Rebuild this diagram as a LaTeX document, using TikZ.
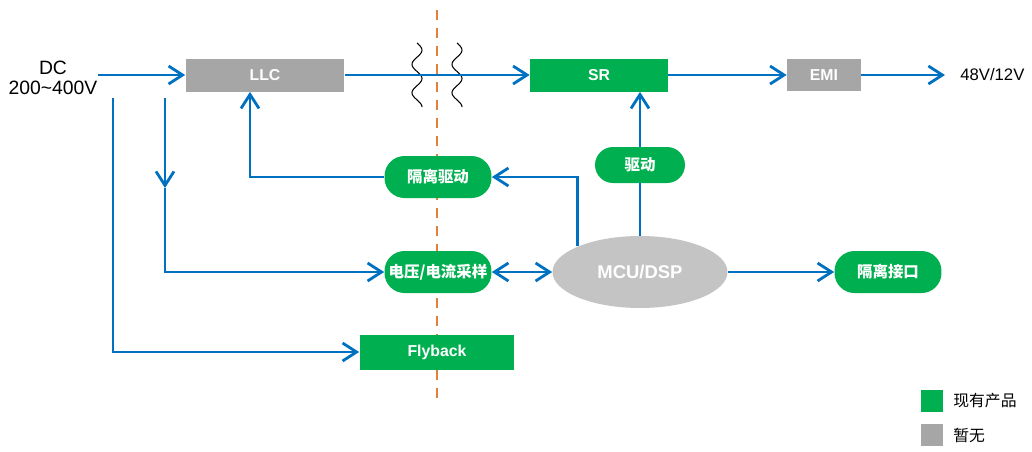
\documentclass[tikz,border=0pt]{standalone}
\usepackage{fontspec}
\setmainfont{Liberation Sans}
\newfontfamily\cjk{Noto Sans CJK SC}
\usetikzlibrary{arrows.meta, shapes.geometric}

\definecolor{lineblue}{RGB}{0,112,192}
\definecolor{prodgreen}{RGB}{0,176,80}
\definecolor{nogray}{RGB}{166,166,166}
\definecolor{mcugray}{RGB}{196,196,196}
\definecolor{cutorange}{RGB}{226,128,56}

\begin{document}
\begin{tikzpicture}[x=0.02cm, y=-0.02cm, font=\fontsize{9}{11}\selectfont]
    \tikzstyle{box} = [rectangle, text=white, inner sep=0pt, font=\fontsize{9}{11}\selectfont\bfseries]
    \tikzstyle{green box} = [box, fill=prodgreen]
    \tikzstyle{gray box} = [box, fill=nogray]
    \tikzstyle{pill} = [box, fill=prodgreen, rounded corners=0.4cm, minimum width=2.14cm, minimum height=0.84cm, font=\fontsize{8.8}{11}\selectfont\cjk\bfseries]
    \tikzstyle{link} = [draw=lineblue, line width=1.6pt, -{Straight Barb[length=2.8mm, width=3.6mm]}]
    \tikzstyle{both} = [link, {Straight Barb[length=2.8mm, width=3.6mm]}-{Straight Barb[length=2.8mm, width=3.6mm]}]
    \tikzstyle{wire} = [draw=lineblue, line width=1.6pt]
    \tikzstyle{coil} = [draw=black, line width=0.6pt, smooth, samples=60, domain=0:64]

    \useasboundingbox (0,0) rectangle (1032,451);

    % isolation barrier and transformer
    \draw [cutorange, line width=1.1pt, dash pattern=on 0.2cm off 0.16cm] (437,10) -- (437,405);
    \draw [coil] plot ({417+5*sin(\x*12.656)}, {43+\x});
    \draw [coil] plot ({457+5*sin(\x*12.656)}, {43+\x});

    \node [align=center, font=\fontsize{11}{11.5}\selectfont] (dc) at (53,78) {DC\\200\textasciitilde400V};
    \coordinate (in) at (98,75);
    \coordinate (b1) at (113,98);
    \coordinate (b2) at (165,98);
    \coordinate (mid) at (165,188);

    \node [gray box, minimum width=3.18cm, minimum height=0.66cm] (llc) at (265,75) {LLC};
    \node [green box, minimum width=2.76cm, minimum height=0.66cm] (sr) at (599,75) {SR};
    \node [gray box, minimum width=1.48cm, minimum height=0.64cm] (emi) at (824,75) {EMI};
    \node [inner sep=0pt, anchor=west, font=\fontsize{9.5}{11}\selectfont] (out) at (960,75) {48V/12V};

    \node [pill] (iso) at (438,177) {隔离驱动};
    \node [pill, minimum width=1.8cm, minimum height=0.72cm, rounded corners=0.36cm] (drv) at (640,165) {驱动};
    \node [pill] (samp) at (438,272) {电压/电流采样};
    \node [ellipse, fill=mcugray, text=white, inner sep=0pt, minimum width=3.5cm, minimum height=1.44cm, font=\fontsize{10.5}{12}\selectfont\bfseries] (mcu) at (640,272) {MCU/DSP};
    \node [pill] (iface) at (888,272) {隔离接口};
    \node [green box, minimum width=3.1cm, minimum height=0.7cm] (fly) at (437,352) {Flyback};

    % legend
    \node [green box, minimum size=0.44cm] (key1) at (932,401) {};
    \node [inner sep=0pt, anchor=west, font=\fontsize{9}{11}\selectfont\cjk] (key1 text) at (953,401) {现有产品};
    \node [gray box, minimum size=0.44cm] (key2) at (932,435) {};
    \node [inner sep=0pt, anchor=west, font=\fontsize{9}{11}\selectfont\cjk] (key2 text) at (953,435) {暂无};

    \draw [link] (in) -- (in -| llc.west);
    \draw [link] (llc) -- (sr);
    \draw [link] (sr) -- (emi);
    \draw [link] (emi) -- ([xshift=-0.3cm]out.west);

    \draw [link] (b1) |- (fly.west);
    \draw [link] (b2) -- (mid);
    \draw [link] (mid) |- (samp.west);

    \draw [both] (samp) -- (mcu);
    \draw [link] (mcu) -- (iface);
    \draw [link] (mcu.north west) |- (iso.east);
    \draw [link] (iso.west) -| ([xshift=-0.3cm]llc.south);
    \draw [wire] (mcu.north) -- (drv.south);
    \draw [link] (drv.north) -- (drv.north |- sr.south);
\end{tikzpicture}
\end{document}
